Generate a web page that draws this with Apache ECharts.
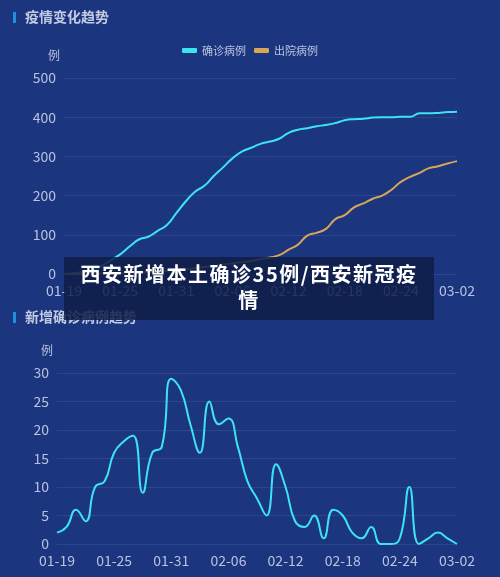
<!DOCTYPE html><html><head><meta charset="utf-8">
<script src="https://cdn.jsdelivr.net/npm/echarts@6/dist/echarts.min.js"></script>
<style>html,body{margin:0;padding:0;background:#1b357f;}#c{width:500px;height:577px;}
#ov{position:absolute;left:64px;top:257px;width:370px;height:63px;background:rgba(14,28,70,0.85);color:#fff;font:bold 20px "Noto Sans CJK SC";text-align:center;line-height:26px;padding:4px 10px 0 10px;box-sizing:border-box;letter-spacing:1.5px;}</style>
</head><body><div id="c"></div><div id="ov">西安新增本土确诊35例/西安新冠疫情</div>
<script>
const dates=[];(function(){const d=new Date(2022,0,19);for(let i=0;i<43;i++){const m=d.getMonth()+1,dd=d.getDate();dates.push(String(m).padStart(2,'0')+'-'+String(dd).padStart(2,'0'));d.setDate(dd+1);}})();
const confirmed=[0,2,5,10,20,35,50,70,88,95,110,125,155,185,210,225,250,272,295,312,322,332,338,345,360,368,372,377,380,385,392,395,396,399,400,400,401,401,410,410,411,413,414];
const discharged=[0,0,0,0,1,1,2,3,4,5,6,8,10,12,15,18,20,24,27,30,33,38,42,48,62,75,98,105,115,140,150,170,180,192,200,215,235,248,258,270,275,282,288];
const daily=[2,3,6,4,10,11,16,18,19,9,16,17,29,27,21,16,25,21,22,17,11,8,5,14,10,4,3,5,1,6,5,2,1,3,0,0,1,10,0,1,2,1,0];
const lab='#b9c3df',gl='#2a4690',F='Noto Sans CJK SC';
const xa=(gi)=>({type:'category',gridIndex:gi,data:dates,boundaryGap:false,axisLine:{show:false},axisTick:{show:false},axisLabel:{color:lab,fontSize:14,fontFamily:F,interval:5,margin:10}});
const ya=(gi,max,iv)=>({type:'value',gridIndex:gi,min:0,max:max,interval:iv,name:'例',nameTextStyle:{color:lab,fontSize:12,fontFamily:F,align:'right',padding:[0,4,2,0]},axisLabel:{color:lab,fontSize:14,fontFamily:F},splitLine:{lineStyle:{color:gl}}});
const ch=echarts.init(document.getElementById('c'));
ch.setOption({backgroundColor:'#1b357f',
title:[{text:'疫情变化趋势',left:20,top:5,textStyle:{color:'#c3cbe3',fontSize:14,fontFamily:F,fontWeight:'bold'}},{text:'新增确诊病例趋势',left:20,top:305,textStyle:{color:'#c3cbe3',fontSize:14,fontFamily:F,fontWeight:'bold'}}],
graphic:[{type:'rect',left:13,top:12,shape:{width:3,height:11},style:{fill:'#1f8fe0'}},{type:'rect',left:13,top:312,shape:{width:3,height:11},style:{fill:'#1f8fe0'}}],
legend:{top:40,left:'center',itemWidth:15,itemHeight:5,icon:'roundRect',textStyle:{color:lab,fontSize:11,fontFamily:F},data:['确诊病例','出院病例']},
grid:[{left:64,right:43,top:78,height:196},{left:57,right:43,top:373,height:171}],
xAxis:[xa(0),xa(1)],yAxis:[ya(0,500,100),ya(1,30,5)],
series:[{name:'确诊病例',type:'line',smooth:true,showSymbol:false,data:confirmed,color:'#3ee3f2',lineStyle:{width:2}},
{name:'出院病例',type:'line',smooth:true,showSymbol:false,data:discharged,color:'#d8a657',lineStyle:{width:2}},
{name:'新增',type:'line',xAxisIndex:1,yAxisIndex:1,smooth:true,showSymbol:false,data:daily,color:'#3ee3f2',lineStyle:{width:2}}]});
</script></body></html>
